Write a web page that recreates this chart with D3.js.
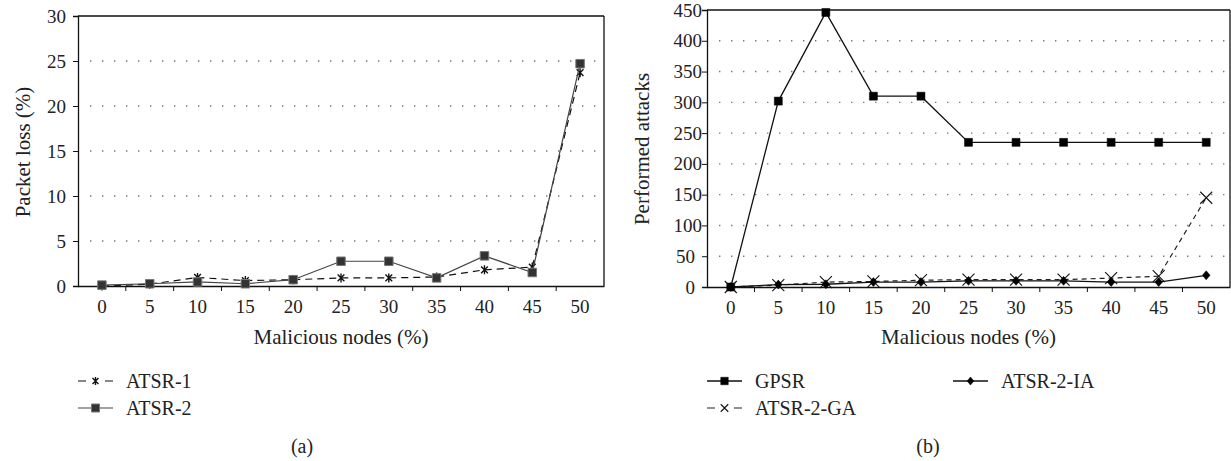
<!DOCTYPE html>
<html><head><meta charset="utf-8">
<script src="https://cdn.jsdelivr.net/npm/d3@7"></script>
<style>
body{margin:0;background:#fff}
svg{display:block}
text{font-family:"Liberation Serif","Times New Roman",serif;fill:#222}
</style>
</head><body>
<svg id="c" width="1231" height="461"></svg>
<script>
const categories = ["0","5","10","15","20","25","30","35","40","45","50"];
// Panel (a): packet loss (%)
const atsr1 = [0, 0.2, 0.95, 0.6, 0.7, 0.9, 0.9, 1.0, 1.8, 2.1, 23.7];
const atsr2 = [0.1, 0.25, 0.45, 0.25, 0.7, 2.75, 2.75, 0.9, 3.35, 1.5, 24.7];
const yTicksA = [0, 5, 10, 15, 20, 25, 30];
// Panel (b): performed attacks
const gpsr    = [0, 302, 446, 310, 310, 235, 235, 235, 235, 235, 235];
const atsr2ga = [0, 3, 8, 9, 11, 12, 12, 12, 14.5, 17.5, 145];
const atsr2ia = [0, 4, 4.5, 8, 8, 10, 10, 10, 8, 8, 19];
const yTicksB = [0, 50, 100, 150, 200, 250, 300, 350, 400, 450];

const svg = d3.select("#c");

function markerPath(type, s) {
  const h = s / 2;
  if (type === "square") return `M${-h},${-h}H${h}V${h}H${-h}Z`;
  if (type === "diamond") return `M0,${-h}L${h*0.85},0L0,${h}L${-h*0.85},0Z`;
  if (type === "x") return `M${-h},${-h}L${h},${h}M${-h},${h}L${h},${-h}`;
  if (type === "asterisk") {
    const d = h * 0.75;
    return `M0,${-h}V${h}M${-d},${-d}L${d},${d}M${-d},${d}L${d},${-d}`;
  }
  return "";
}

function drawPanel(cfg) {
  const g = svg.append("g");
  const x = d3.scaleBand().domain(categories).range([cfg.left, cfg.right]);
  const y = d3.scaleLinear().domain([0, cfg.yMax]).range([cfg.bottom, cfg.top]);

  // dotted grid
  g.append("g").selectAll("line")
    .data(cfg.yTicks.filter(v => v > 0 && v < cfg.yMax))
    .join("line")
    .attr("x1", cfg.left + 12).attr("x2", cfg.right)
    .attr("y1", d => y(d)).attr("y2", d => y(d))
    .attr("stroke", "#777").attr("stroke-width", 1.4)
    .attr("stroke-dasharray", "1.4,10.6");

  // frame
  g.append("line").attr("x1", cfg.left).attr("x2", cfg.right)
    .attr("y1", cfg.top).attr("y2", cfg.top).attr("stroke", "#111").attr("stroke-width", 1.3);
  g.append("line").attr("x1", cfg.right).attr("x2", cfg.right)
    .attr("y1", cfg.top).attr("y2", cfg.bottom).attr("stroke", "#111").attr("stroke-width", 1.3);

  // y axis
  const ya = d3.axisLeft(y).tickValues(cfg.yTicks).tickSize(5).tickPadding(7);
  const yg = g.append("g").attr("transform", `translate(${cfg.left},0)`).call(ya);
  yg.select(".domain").attr("stroke", "#111").attr("stroke-width", 1.3);
  yg.selectAll(".tick line").attr("stroke", "#111");
  yg.selectAll(".tick text").style("font-size", "19px").attr("fill", "#222")
    .style("font-family", "'Liberation Serif',serif")
    .attr("x", d => String(d).length >= 3 ? -cfg.wideLabelGap : -12);

  // x axis: ticks at band boundaries
  const xa = d3.axisBottom(x).tickSize(0).tickPadding(14);
  const xg = g.append("g").attr("transform", `translate(0,${cfg.bottom})`).call(xa);
  xg.select(".domain").attr("stroke", "#111").attr("stroke-width", 1.3);
  xg.selectAll(".tick text").style("font-size", "19px").attr("fill", "#222")
    .style("font-family", "'Liberation Serif',serif");
  xg.selectAll("line.bnd").data(categories.slice(1)).join("line").attr("class", "bnd")
    .attr("x1", d => x(d)).attr("x2", d => x(d)).attr("y1", 0).attr("y2", 5)
    .attr("stroke", "#111");

  // axis titles
  g.append("text").attr("x", (cfg.left + cfg.right) / 2).attr("y", 344)
    .attr("text-anchor", "middle").style("font-size", "21px").text("Malicious nodes (%)");
  g.append("text").attr("transform", `translate(${cfg.yTitleX},${cfg.yTitleY}) rotate(-90)`)
    .attr("text-anchor", "middle").style("font-size", "21px").text(cfg.yTitle);

  const cx = d => x(d) + x.bandwidth() / 2;

  // series
  cfg.series.forEach(s => {
    const pts = s.values.map((v, i) => [cx(categories[i]), y(v)]);
    g.append("path").attr("d", d3.line()(pts)).attr("fill", "none")
      .attr("stroke", s.lineColor).attr("stroke-width", s.lineWidth)
      .attr("stroke-dasharray", s.dash || null);
    g.append("g").selectAll("path").data(pts).join("path")
      .attr("transform", d => `translate(${d[0]},${d[1]})`)
      .attr("d", markerPath(s.marker, s.size))
      .attr("fill", s.fill).attr("stroke", s.stroke).attr("stroke-width", s.mw);
  });

  // legend
  cfg.series.forEach(s => {
    const lx = s.legend[0], ly = s.legend[1];
    g.append("line").attr("x1", lx).attr("x2", lx + 35).attr("y1", ly).attr("y2", ly)
      .attr("stroke", s.lineColor).attr("stroke-width", s.lineWidth)
      .attr("stroke-dasharray", s.dash ? "8,19,8" : null);
    g.append("path").attr("transform", `translate(${lx + 17.5},${ly})`)
      .attr("d", markerPath(s.marker, s.legendSize))
      .attr("fill", s.fill).attr("stroke", s.stroke).attr("stroke-width", s.mw);
    g.append("text").attr("x", lx + 48).attr("y", ly).attr("dy", "0.34em")
      .style("font-size", "20px").text(s.name);
  });

  g.append("text").attr("x", cfg.captionX).attr("y", 446).attr("dy", "0.34em")
    .attr("text-anchor", "middle").style("font-size", "20px").text(cfg.caption);
}

drawPanel({
  left: 78, right: 604, top: 16, bottom: 286, yMax: 30, yTicks: yTicksA, wideLabelGap: 12,
  yTitle: "Packet loss (%)", yTitleX: 30, yTitleY: 152, caption: "(a)", captionX: 302,
  series: [
    {name: "ATSR-1", values: atsr1, marker: "asterisk", size: 9, legendSize: 8,
     fill: "none", stroke: "#111", mw: 1.4, lineColor: "#111", lineWidth: 1.2, dash: "7,5", legend: [78, 381]},
    {name: "ATSR-2", values: atsr2, marker: "square", size: 8.5, legendSize: 8,
     fill: "#333", stroke: "#777", mw: 1, lineColor: "#444", lineWidth: 1.2, dash: null, legend: [78, 408]}
  ]
});

drawPanel({
  left: 707, right: 1230, top: 10, bottom: 287, yMax: 450, yTicks: yTicksB, wideLabelGap: 5,
  yTitle: "Performed attacks", yTitleX: 649, yTitleY: 149, caption: "(b)", captionX: 928,
  series: [
    {name: "GPSR", values: gpsr, marker: "square", size: 8, legendSize: 7.5,
     fill: "#000", stroke: "#000", mw: 0.5, lineColor: "#111", lineWidth: 1.3, dash: null, legend: [707, 381]},
    {name: "ATSR-2-GA", values: atsr2ga, marker: "x", size: 12, legendSize: 7.5,
     fill: "none", stroke: "#111", mw: 1.1, lineColor: "#222", lineWidth: 1.2, dash: "5,4", legend: [707, 408]},
    {name: "ATSR-2-IA", values: atsr2ia, marker: "diamond", size: 9, legendSize: 8,
     fill: "#000", stroke: "#000", mw: 0.5, lineColor: "#111", lineWidth: 1.3, dash: null, legend: [953, 381]}
  ]
});
</script>
</body></html>
